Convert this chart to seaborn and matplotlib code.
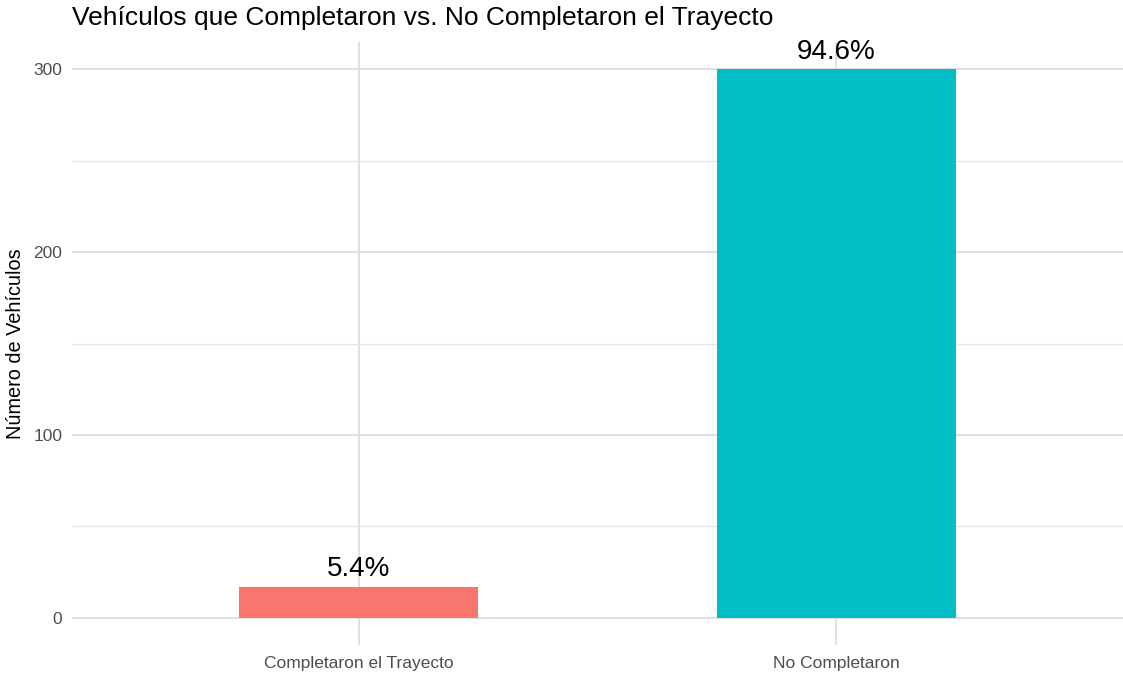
import matplotlib
matplotlib.use("Agg")
import matplotlib.pyplot as plt
import seaborn as sns
import pandas as pd
from matplotlib.ticker import MultipleLocator

categorias = ["Completaron el Trayecto", "No Completaron"]
vehiculos = [17, 300]
colores = ["#F8766D", "#00BFC4"]

total = sum(vehiculos)
porcentajes = [f"{100 * v / total:.1f}%" for v in vehiculos]

df = pd.DataFrame({"estado": categorias, "n": vehiculos})

sns.set_theme(style="white")
plt.rcParams["font.family"] = ["Liberation Sans", "DejaVu Sans"]

fig = plt.figure(figsize=(11.23, 6.75), dpi=100)
ax = fig.add_axes([0.0641, 0.0444, 0.9359, 0.8934])

sns.barplot(data=df, x="estado", y="n", hue="estado", palette=colores,
            width=0.5, legend=False, ax=ax, saturation=1, zorder=3,
            linewidth=0, edgecolor="none")

for i, (v, p) in enumerate(zip(vehiculos, porcentajes)):
    ax.annotate(p, (i, v), xytext=(0, 3), textcoords="offset points",
                ha="center", va="bottom", fontsize=20, color="black", zorder=5)

ax.set_xlim(-0.6, 1.6)
ax.set_ylim(-15, 315)
ax.yaxis.set_major_locator(MultipleLocator(100))
ax.yaxis.set_minor_locator(MultipleLocator(50))

ax.grid(True, which="major", axis="both", color="#E0E0E0", linewidth=1.4, zorder=0)
ax.grid(True, which="minor", axis="y", color="#E6E6E6", linewidth=1.0, zorder=0)
ax.set_axisbelow(True)
for s in ax.spines.values():
    s.set_visible(False)

ax.tick_params(axis="both", which="both", length=0, labelsize=12.5, labelcolor="#4D4D4D")
ax.tick_params(axis="x", pad=8)
ax.tick_params(axis="y", pad=7)

ax.set_xlabel("")
ax.set_ylabel("Número de Vehículos", fontsize=14.3, color="black", labelpad=6)
fig.text(0.0641, 0.973, "Vehículos que Completaron vs. No Completaron el Trayecto",
         fontsize=19, color="black", ha="left", va="center")

fig.savefig("out.png", dpi=100, facecolor="white")
